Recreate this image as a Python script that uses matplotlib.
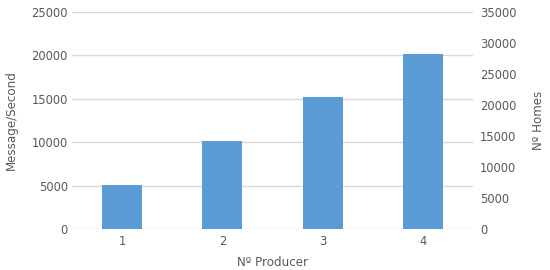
import numpy as np
import matplotlib.pyplot as plt

producers = ["1", "2", "3", "4"]
msg_per_sec = [5100, 10100, 15150, 20150]
left_ticks = [0, 5000, 10000, 15000, 20000, 25000]
right_ticks = [0, 5000, 10000, 15000, 20000, 25000, 30000, 35000]

txt = "#595959"
grid = "#d9d9d9"

fig = plt.figure(figsize=(5.5, 2.7), dpi=100)
ax = fig.add_axes([0.131, 0.152, 0.729, 0.804])
x = np.arange(len(producers))
ax.bar(x, msg_per_sec, width=0.4, color="#5b9bd5", zorder=3)
ax.set_xlim(-0.5, 3.5)
ax.set_ylim(0, 25000)
ax.set_yticks(left_ticks)
ax.set_xticks(x)
ax.set_xticklabels(producers)
ax.grid(axis="y", color=grid, linewidth=1, zorder=0)
for s in ax.spines.values():
    s.set_visible(False)
ax.tick_params(length=0, labelsize=8.3, colors=txt, pad=3)
ax.tick_params(axis="x", pad=4)
ax.set_xlabel("Nº Producer", fontsize=8.6, color=txt, labelpad=6)
ax.set_ylabel("Message/Second", fontsize=8.6, color=txt, labelpad=10)

ax2 = ax.twinx()
ax2.set_ylim(0, 35000)
ax2.set_yticks(right_ticks)
for s in ax2.spines.values():
    s.set_visible(False)
ax2.tick_params(length=0, labelsize=8.3, colors=txt, pad=5)
ax2.set_ylabel("Nº Homes", fontsize=8.6, color=txt, labelpad=11)

fig.savefig("out.png", dpi=100)
